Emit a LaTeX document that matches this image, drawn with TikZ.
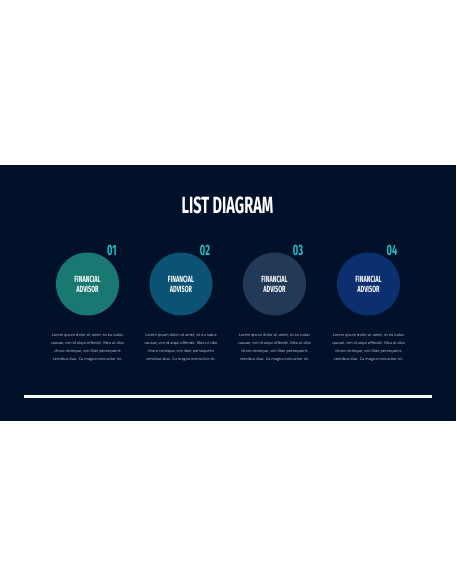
\documentclass[tikz,border=0pt]{standalone}
\usepackage{fontspec}
\usepackage{tikz}
\setmainfont{Open Sans}
\newfontfamily\headfont[FakeStretch=0.62]{Fira Sans}

\definecolor{panel}{HTML}{02112A}
\definecolor{circA}{HTML}{1A7872}
\definecolor{circB}{HTML}{0B5275}
\definecolor{circC}{HTML}{223A58}
\definecolor{circD}{HTML}{0B2F6F}
\definecolor{numcol}{HTML}{22BFC6}
\definecolor{bodytext}{HTML}{C4CBD6}

\tikzset{
    advisor/.style={circle,minimum size=63pt,inner sep=0pt,text=white,align=center,
        font=\headfont\bfseries\fontsize{9}{10}\selectfont},
    number/.style={text=numcol,inner sep=0pt,font=\headfont\bfseries\fontsize{15}{15}\selectfont},
    blurb/.style={text=bodytext,align=center,inner sep=0pt,font=\fontsize{3.8}{8}\selectfont}
}

\begin{document}
\begin{tikzpicture}[x=1pt,y=-1pt]
    \useasboundingbox (0,0) rectangle (456,586);
    \fill[panel] (0,165) rectangle (456,421);
    \node[text=white,font=\headfont\bfseries\fontsize{23.5}{23.5}\selectfont] (title) at (227.5,205) {LIST DIAGRAM};
    \node[advisor,fill=circA] (adv1) at (87.5,284) {FINANCIAL\\ADVISOR};
    \node[advisor,fill=circB] (adv2) at (181,284) {FINANCIAL\\ADVISOR};
    \node[advisor,fill=circC] (adv3) at (274.5,284) {FINANCIAL\\ADVISOR};
    \node[advisor,fill=circD] (adv4) at (368.5,284) {FINANCIAL\\ADVISOR};
    \node[number] (num1) at (112,250.5) {01};
    \node[number] (num2) at (205,250.5) {02};
    \node[number] (num3) at (298,250.5) {03};
    \node[number] (num4) at (392,250.5) {04};
    \node[blurb] (text1) at (87.5,348) {Lorem ipsum dolor sit amet, sit eu iudus\\causae, vim id atqui offendit. Mea ut cibo\\choro recteque, vim liber persequeris\\sensibus duo. Cu magna instructior sit.};
    \node[blurb] (text2) at (181,348) {Lorem ipsum dolor sit amet, sit eu iudus\\causae, vim id atqui offendit. Mea ut cibo\\choro recteque, vim liber persequeris\\sensibus duo. Cu magna instructior sit.};
    \node[blurb] (text3) at (274.5,348) {Lorem ipsum dolor sit amet, sit eu iudus\\causae, vim id atqui offendit. Mea ut cibo\\choro recteque, vim liber persequeris\\sensibus duo. Cu magna instructior sit.};
    \node[blurb] (text4) at (368.5,348) {Lorem ipsum dolor sit amet, sit eu iudus\\causae, vim id atqui offendit. Mea ut cibo\\choro recteque, vim liber persequeris\\sensibus duo. Cu magna instructior sit.};
    \coordinate (lineL) at (24,396);
    \coordinate (lineR) at (432,396);
    \draw[line width=3pt,white!94!gray] (lineL) -- (lineR);
\end{tikzpicture}
\end{document}
